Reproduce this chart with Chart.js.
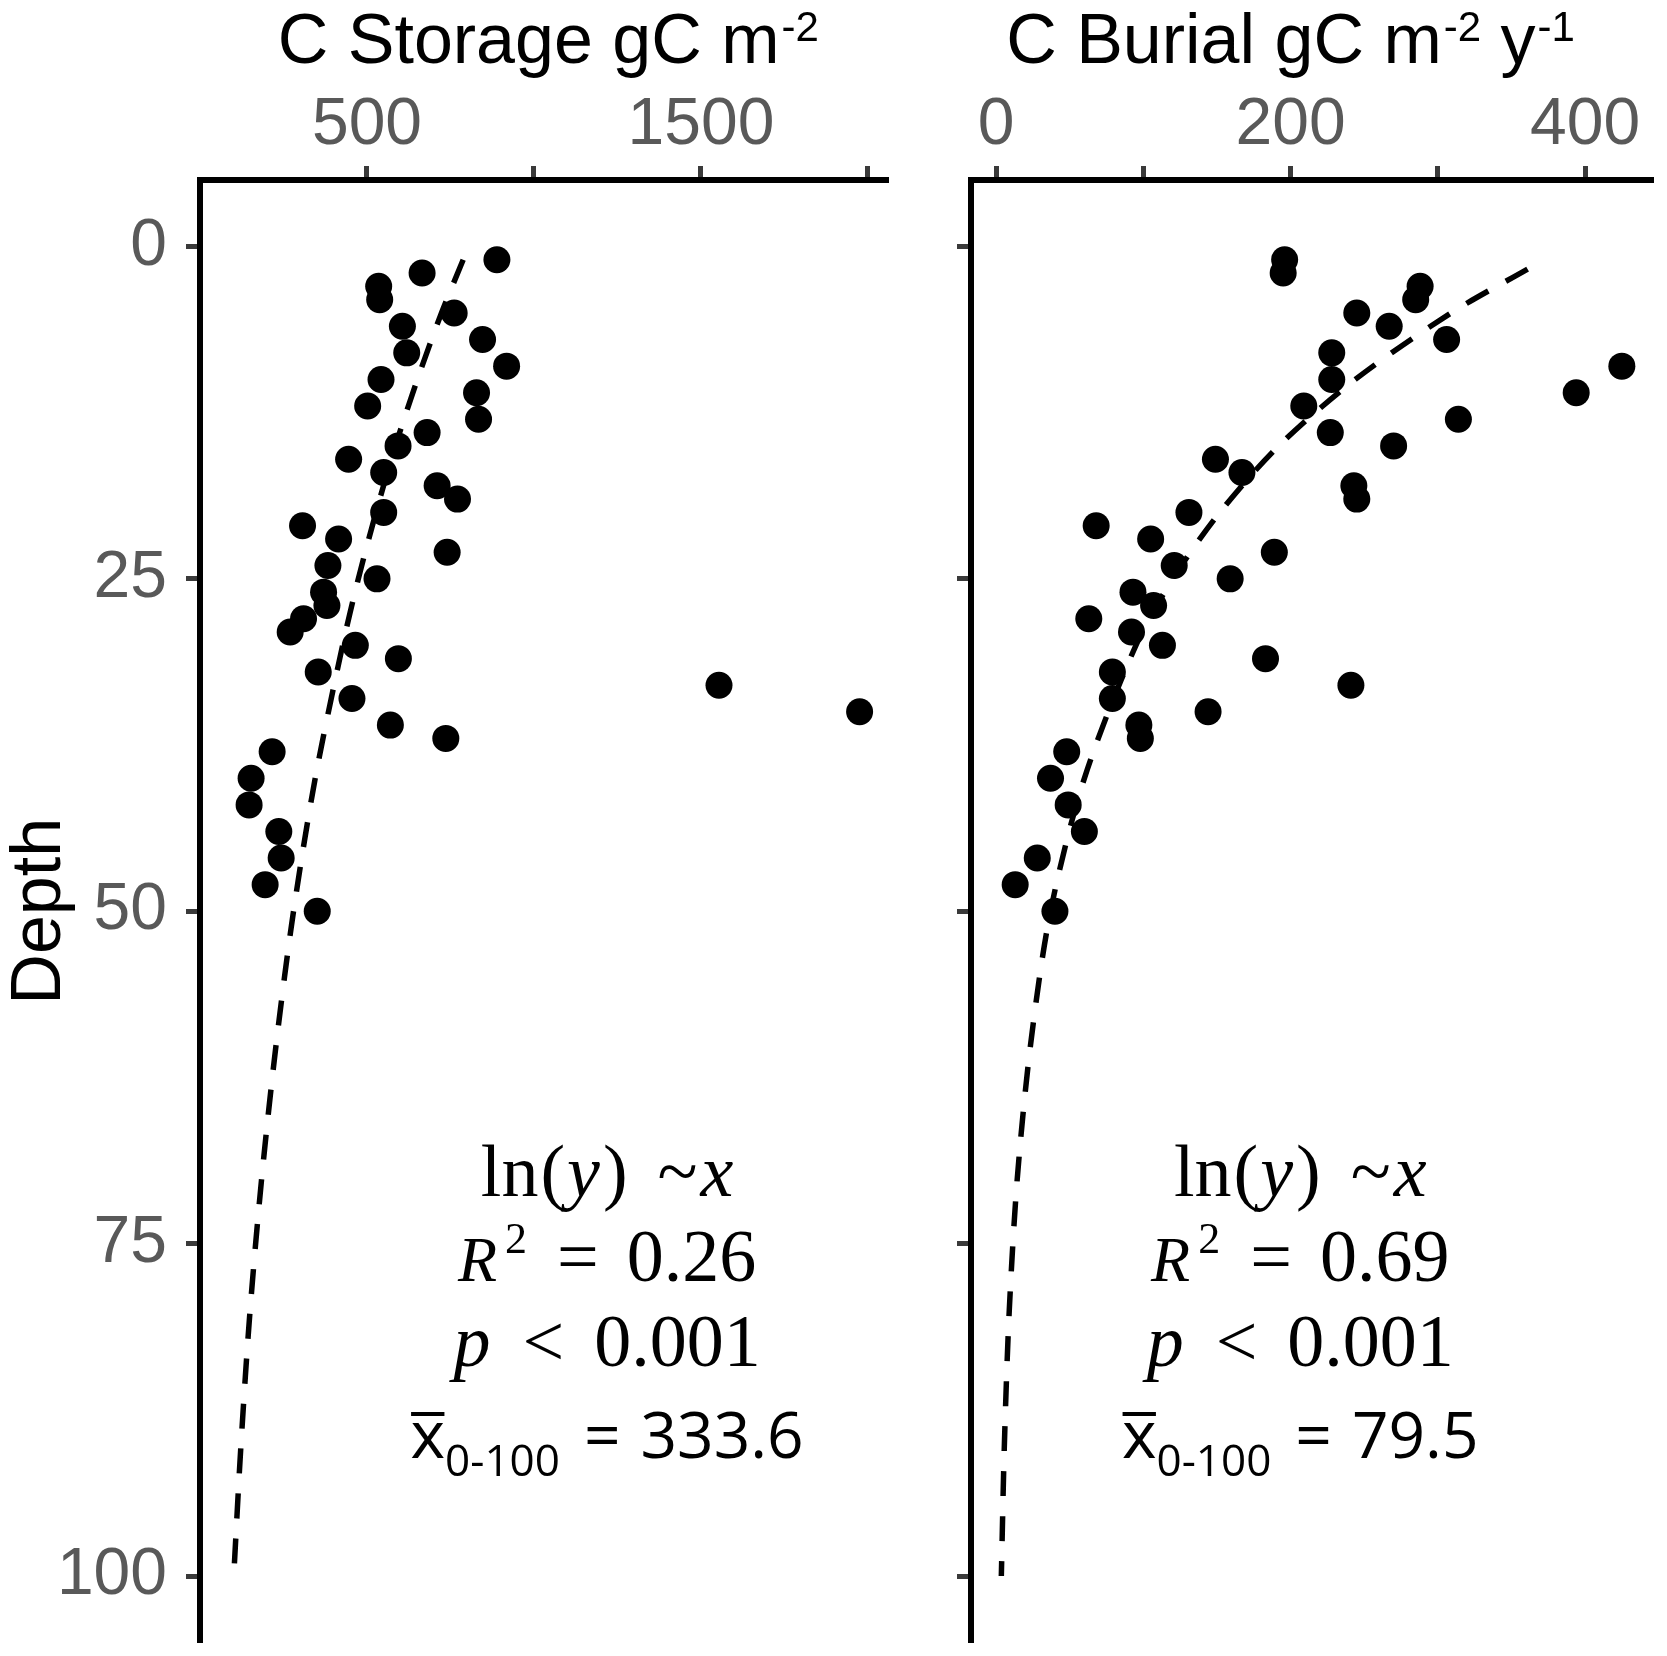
<!DOCTYPE html>
<html><head><meta charset="utf-8">
<script src="https://cdn.jsdelivr.net/npm/chart.js@4"></script>
<style>
html,body{margin:0;padding:0;background:#fff;}
#wrap{position:relative;width:1667px;height:1656px;overflow:hidden;background:#fff}
canvas{position:absolute;top:0}
#c1{left:0}
#c2{left:930px}
</style></head><body>
<div id="wrap"><canvas id="c1" width="930" height="1656"></canvas><canvas id="c2" width="737" height="1656"></canvas></div>
<script>
// ---- data ----
const depths = [1,2,3,4,5,6,7,8,9,10,11,12,13,14,15,16,17,18,19,20,21,22,23,24,25,26,27,28,29,30,31,32,33,34,35,36,37,38,40,42,44,46,48,50];
const storage = [889,665,535,538,761,606,846,619,918,542,828,502,834,680,593,445,550,710,771,550,307,415,740,383,530,370,380,310,270,465,594,354,1554,455,1975,570,736,216,153,147,236,243,195,351];
const burial = [196,195,288,285,245,267,306,228,425,228,394,209,314,227,270,149,167,243,245,131,68,105,189,121,159,93,107,63,92,113,183,79,241,79,144,97,98,48,37,49,60,28,13,40];
const fitDepthStorage = [1,5,10,15,20,25,30,40,50,60,70,80,90,100];
const fitStorage = [788,723,651,585,527,474,427,345,280,228,185,150,123,101];
const fitDepthBurial = [1.7,5,10,15,20,25,30,40,50,60,70,80,90,100];
const fitBurial = [361,309,244,192,152,120,95,60,37,23.5,14.5,9,5.7,3.6];
const depthTicks = [0,25,50,75,100];
const storageTicks = [500,1000,1500,2000];
const storageTickLabels = [500,1500];
const burialTicks = [0,100,200,300,400];
const burialTickLabels = [0,200,400];
const statsStorage = {r2:'0.26', p:'0.001', mean:'333.6'};
const statsBurial = {r2:'0.69', p:'0.001', mean:'79.5'};

// ---- drawing helpers ----
const SANS = '"Liberation Sans", Arial, sans-serif';
const SERIF = '"Liberation Serif", "Times New Roman", serif';
const OPEN = '"Open Sans", sans-serif';
const fUp = '74px ' + SERIF, fIt = 'italic 74px ' + SERIF, fR = 'italic 64px ' + SERIF, fSup = '44px ' + SERIF;

function segWidth(ctx, segs){
  let w = 0;
  for (const s of segs){ ctx.font = s.f; w += ctx.measureText(s.t).width + (s.g||0); }
  return w;
}
function drawRich(ctx, segs, cx, y){
  let x = cx - segWidth(ctx, segs)/2;
  ctx.textAlign = 'left'; ctx.textBaseline = 'alphabetic';
  for (const s of segs){
    x += (s.g||0);
    ctx.font = s.f;
    const w = ctx.measureText(s.t).width;
    ctx.fillText(s.t, x, y + (s.dy||0));
    if (s.over){ ctx.textAlign='center'; ctx.fillText(s.over, x + w/2, y + (s.overDy||0)); ctx.textAlign='left'; }
    x += w;
  }
}
function annoLines(st){
  return [
    [{t:'ln',f:fUp},{t:'(',f:fUp,g:2},{t:'y',f:fIt,g:2},{t:')',f:fUp,g:3},{t:'~',f:fUp,g:30},{t:'x',f:fIt,g:3}],
    [{t:'R',f:fR},{t:'2',f:fSup,dy:-28,g:8},{t:'=',f:fUp,g:30},{t:st.r2,f:fUp,g:28}],
    [{t:'p',f:fIt},{t:'<',f:fUp,g:32},{t:st.p,f:fUp,g:30}],
    [{t:'x',f:'66px '+OPEN,over:'\u00AF',overDy:8},{t:'0-100',f:'44px '+OPEN,dy:18},{t:'=',f:'64px '+OPEN,g:24},{t:st.mean,f:'64px '+OPEN,g:20}]
  ];
}

const textPlugin = {
  id:'panelText',
  afterDraw(chart){
    const o = chart.options.plugins.panelText;
    const ctx = chart.ctx, xs = chart.scales.x, ys = chart.scales.y, ca = chart.chartArea;
    ctx.save();
    ctx.fillStyle = '#000';
    drawRich(ctx, o.title, xs.getPixelForValue(o.titleX), 63);
    const lines = annoLines(o.stats);
    const ax = xs.getPixelForValue(o.annoX);
    o.annoDepths.forEach((d,i)=> drawRich(ctx, lines[i], ax, ys.getPixelForValue(d)));
    if (o.depthTitle){
      ctx.save();
      ctx.translate(60, (ca.top + ca.bottom)/2);
      ctx.rotate(-Math.PI/2);
      ctx.font = '70px ' + SANS; ctx.textAlign = 'center'; ctx.textBaseline = 'alphabetic';
      ctx.fillText('Depth', 0, 0);
      ctx.restore();
    }
    ctx.restore();
  }
};

function makeChart(id, c){
  const tickFont = {family:'Liberation Sans', size:66};
  return new Chart(document.getElementById(id), {
    type:'scatter',
    data:{datasets:[
      {label:'observed', data:depths.map((d,i)=>({x:c.values[i], y:d})), pointRadius:13.5, pointHoverRadius:13.5,
       backgroundColor:'#000', borderWidth:0, order:0},
      {label:'fit', type:'line', data:c.fitD.map((d,i)=>({x:c.fitV[i], y:d})), showLine:true, pointRadius:0,
       borderColor:'#000', borderWidth:5.5, borderDash:[25,20], tension:0.3, fill:false, order:1}
    ]},
    options:{
      responsive:false, animation:false, devicePixelRatio:1,
      layout:{padding:{left:0, top:0, right:c.padRight, bottom:8}},
      plugins:{legend:{display:false}, tooltip:{enabled:false}, panelText:c.text},
      scales:{
        x:{type:'linear', position:'top', min:c.xMin, max:c.xMax,
           afterFit:s=>{s.height=180; s.paddingLeft=0; s.paddingRight=0;},
           afterBuildTicks:s=>{s.ticks=c.xTicks.map(v=>({value:v}));},
           ticks:{callback:v=>c.xLabels.includes(v)?String(v):'', font:tickFont, color:'#595959', padding:1, maxRotation:0, autoSkip:false},
           grid:{drawOnChartArea:false, drawTicks:true, tickLength:14, tickWidth:5, tickColor:'#3a3a3a'},
           border:{display:true, color:'#000', width:6}},
        y:{type:'linear', position:'left', reverse:true, min:-5, max:105,
           afterFit:s=>{s.width=c.yWidth; s.paddingTop=0; s.paddingBottom=0;},
           afterBuildTicks:s=>{s.ticks=depthTicks.map(v=>({value:v}));},
           ticks:{callback:v=>c.yLabels?String(v):'', font:tickFont, color:'#595959', padding:19, autoSkip:false},
           grid:{drawOnChartArea:false, drawTicks:true, tickLength:14, tickWidth:5, tickColor:'#3a3a3a'},
           border:{display:true, color:'#000', width:6}}
      }
    },
    plugins:[textPlugin]
  });
}

const annoDepths = [71.4, 77.8, 84.2, 91.1];
makeChart('c1', {values:storage, fitD:fitDepthStorage, fitV:fitStorage, xMin:0, xMax:2060,
  xTicks:storageTicks, xLabels:storageTickLabels, yWidth:200, padRight:42, yLabels:true,
  text:{title:[{t:'C Storage gC m',f:'70px '+SANS},{t:'-2',f:'42px '+SANS,dy:-22,g:2}], titleX:1043,
        stats:statsStorage, annoX:1219, annoDepths:annoDepths, depthTitle:true}});
makeChart('c2', {values:burial, fitD:fitDepthBurial, fitV:fitBurial, xMin:-17, xMax:446.5,
  xTicks:burialTicks, xLabels:burialTickLabels, yWidth:41, padRight:8, yLabels:false,
  text:{title:[{t:'C Burial gC m',f:'70px '+SANS},{t:'-2',f:'42px '+SANS,dy:-22,g:2},{t:' y',f:'70px '+SANS},{t:'-1',f:'42px '+SANS,dy:-22,g:2}], titleX:200,
        stats:statsBurial, annoX:206.6, annoDepths:annoDepths, depthTitle:false}});
</script>
</body></html>
